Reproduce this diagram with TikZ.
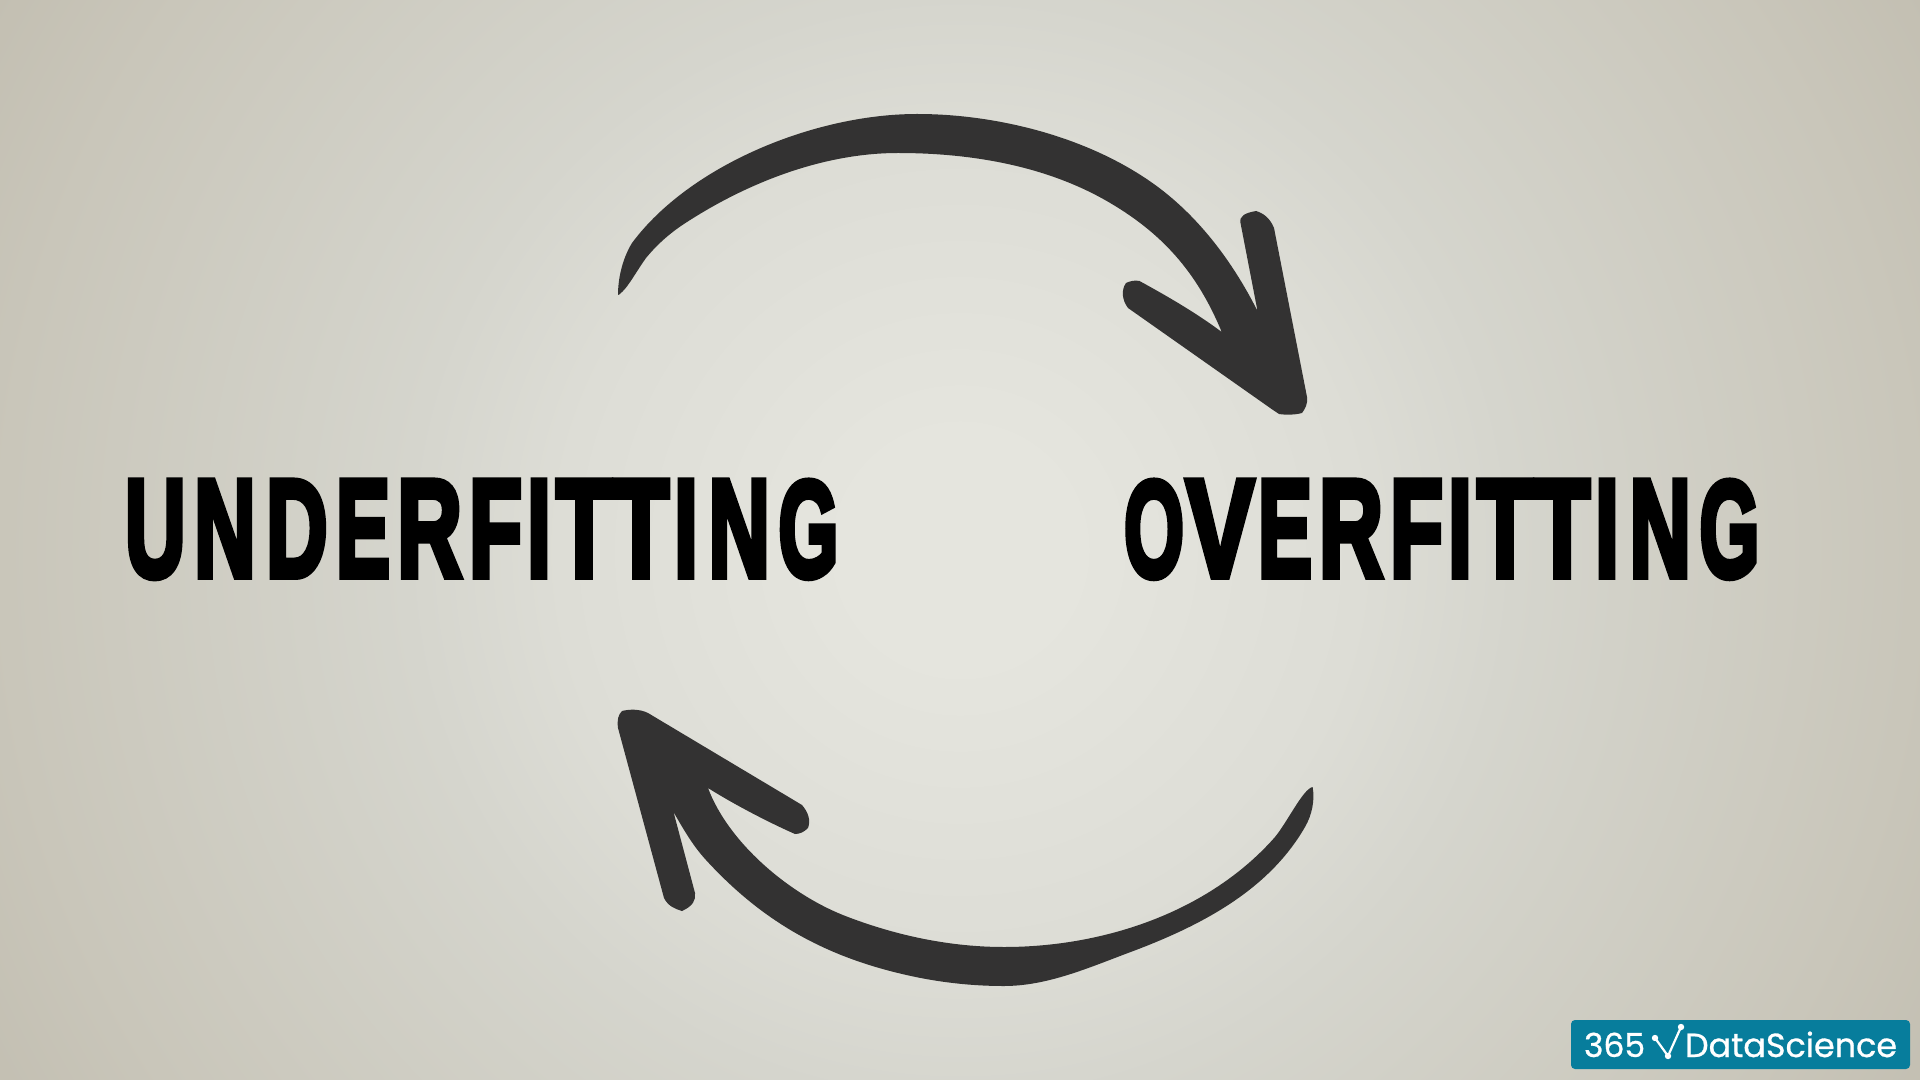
\documentclass[tikz,border=0pt]{standalone}
\usepackage{fontspec}
\usepackage{graphicx}
\newfontfamily\bigfont[FakeBold=5]{Liberation Sans Bold}
\newfontfamily\logofont[FakeBold=0.8]{Poppins}
\definecolor{arrowc}{HTML}{333232}
\definecolor{logoc}{HTML}{077D9C}
\definecolor{bgA}{HTML}{E5E5DE}
\definecolor{bgB}{HTML}{DDDDD6}
\definecolor{bgC}{HTML}{D5D5CD}
\definecolor{bgD}{HTML}{C9C6BA}
\definecolor{bgE}{HTML}{C3BFB2}
\pgfdeclareradialshading{bgshade}{\pgfpoint{0bp}{0bp}}{
 color(0bp)=(bgA); color(2.5bp)=(bgA); color(9bp)=(bgB); color(12.5bp)=(bgC); color(21.5bp)=(bgD); color(25bp)=(bgE); color(50bp)=(bgE)}
\tikzset{
 x=0.5pt,y=-0.5pt,
 arrowshape/.style={fill=arrowc,draw=none},
 bigtext/.style={inner sep=0pt,outer sep=0pt,anchor=base west,text=black,font=\bigfont},
 logotext/.style={inner sep=0pt,outer sep=0pt,anchor=base west,text=white,font=\logofont},
 logodot/.style={circle,fill=white,inner sep=0pt,minimum size=3.2pt}
}
\newcommand{\ltr}[3]{\resizebox{#1pt}{#2pt}{#3}}
\newcommand{\gp}[1]{\kern #1pt\relax}
\begin{document}
\begin{tikzpicture}
\useasboundingbox (0,0) rectangle (1920,1080);
\begin{scope}
\clip (0,0) rectangle (1920,1080);
\shade[shading=bgshade] (960,550) circle[radius=1110];
\end{scope}
% top arrow
\fill[arrowshape]
 (618,295)
 .. controls (618,275) and (624,256) .. (632,243)
 .. controls (690,165) and (815,114) .. (917,114)
 .. controls (957,114) and (997.4,119.6) .. (1036,130)
 .. controls (1076.5,141) and (1116.6,158) .. (1151,182)
 .. controls (1197,214) and (1232.3,261) .. (1257.5,311)
 -- (1240.5,223)
 .. controls (1239,216) and (1245,213) .. (1256,211)
 .. controls (1263,213) and (1270,218) .. (1274,228)
 -- (1307,397)
 .. controls (1308,404) and (1305,409) .. (1302,413)
 .. controls (1295,415) and (1285,415) .. (1279,414)
 -- (1273,410) -- (1128,308)
 .. controls (1122,300) and (1121,290) .. (1126,283)
 .. controls (1130,281) and (1135,280) .. (1139.5,281)
 .. controls (1165,295) and (1195,312) .. (1221.7,332)
 .. controls (1197,272) and (1161.5,232) .. (1105,200)
 .. controls (1043,165) and (969,153) .. (898,153)
 .. controls (824,153) and (749,182) .. (687,222)
 .. controls (668,234) and (655,247) .. (646,258)
 .. controls (638,269) and (628,287) .. (622,292)
 .. controls (620,294) and (619,295) .. (618,295)
 -- cycle;
% bottom arrow
\fill[arrowshape]
 (1312.6,787)
 .. controls (1315,800) and (1312,815) .. (1305,827)
 .. controls (1267.5,892) and (1198,927) .. (1128,953)
 .. controls (1088,968) and (1047,986) .. (1004,986)
 .. controls (968,986) and (933,981.6) .. (898,973)
 .. controls (820,954) and (760,919) .. (706,860)
 .. controls (693,846) and (683,828.5) .. (673.5,812)
 -- (695,893)
 .. controls (696,900) and (693,906) .. (682,911)
 .. controls (675,909) and (668,906) .. (664,898)
 -- (618,728)
 .. controls (617,720) and (618,715) .. (622,711)
 .. controls (630,709) and (640,709) .. (648,713)
 -- (802,805)
 .. controls (808,812) and (811,820) .. (808,828)
 .. controls (804,832) and (800,834) .. (795,834)
 .. controls (770,823) and (735,805) .. (708,788)
 .. controls (729,844) and (791.6,896) .. (848,917)
 .. controls (898,936) and (951,947) .. (1004,947)
 .. controls (1104,947) and (1209,912) .. (1275,837)
 .. controls (1288,821) and (1303,789) .. (1312.6,787)
 -- cycle;
% labels
\node[bigtext] (under) at (125,576.5) {\ltr{30.3}{47.8}{U}\gp{4.2}\ltr{30.8}{47.8}{N}\gp{5.2}\ltr{30.8}{47.8}{D}\gp{4.2}\ltr{27}{47.8}{E}\gp{3.5}\ltr{32.5}{47.8}{R}\gp{3.5}\ltr{26.5}{47.8}{F}\gp{2.5}\ltr{12}{47.8}{I}\gp{2.5}\ltr{28}{47.8}{T}\gp{0.5}\ltr{28}{47.8}{T}\gp{2.5}\ltr{12}{47.8}{I}\gp{5.2}\ltr{30.8}{47.8}{N}\gp{4.2}\ltr{30}{47.8}{G}};
\node[bigtext] (over) at (1124,576.5) {\ltr{30}{47.8}{O}\gp{1}\ltr{34}{47.8}{V}\gp{2}\ltr{27}{47.8}{E}\gp{3.5}\ltr{32}{47.8}{R}\gp{3.5}\ltr{26.5}{47.8}{F}\gp{2.5}\ltr{12}{47.8}{I}\gp{2.5}\ltr{28}{47.8}{T}\gp{0.5}\ltr{28}{47.8}{T}\gp{2.5}\ltr{12}{47.8}{I}\gp{5.2}\ltr{30.8}{47.8}{N}\gp{4.2}\ltr{30}{47.8}{G}};
% logo
\fill[logoc,rounded corners=2pt] (1571,1020) rectangle (1910,1069);
\node[logotext,font=\logofont\fontsize{16.5pt}{16.5pt}\selectfont] (num) at (1584,1057) {365};
\node[logotext,font=\logofont\fontsize{16.7pt}{16.7pt}\selectfont] (name) at (1685,1057) {DataScience};
\node[logodot] (d1) at (1655,1038) {};
\node[logodot] (d2) at (1668,1056) {};
\node[logodot] (d3) at (1681,1027) {};
\draw[white,line width=1.1pt] (d1.center) -- (d2.center) -- (d3.center);
\end{tikzpicture}
\end{document}
